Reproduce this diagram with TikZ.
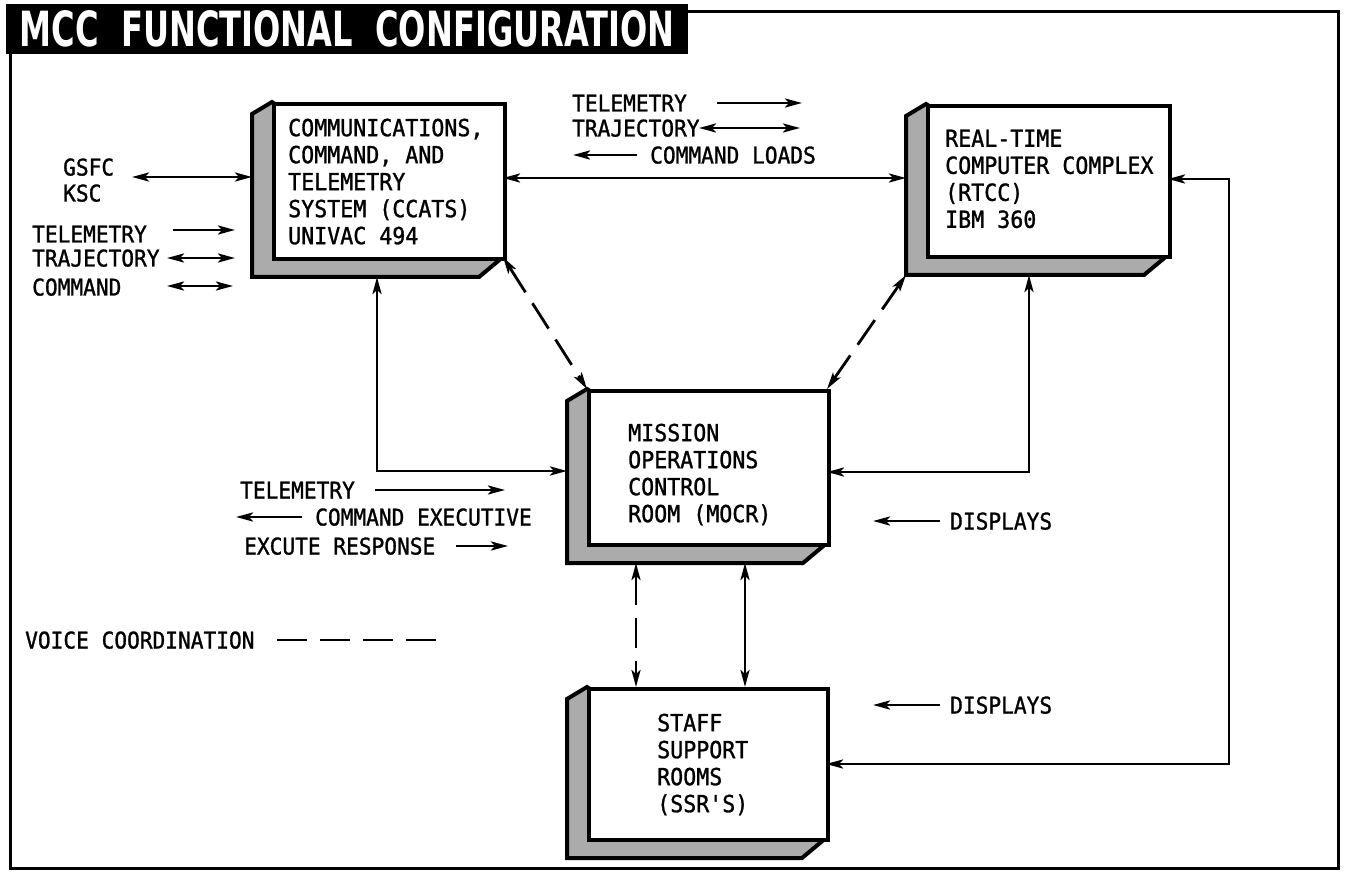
\documentclass[tikz,border=0pt]{standalone}
\usepackage{fontspec}
\usetikzlibrary{arrows.meta}
\newfontfamily\lettering[FakeStretch=0.92,FakeBold=1.2]{DejaVu Sans Mono}
\newfontfamily\titlefont{DejaVu Sans}
\newcommand\mccbox[5]{%
  \draw[sidepanel] (#2,#3) -- ({#2-20},{#3+12}) -- ({#2-20},{#5+20}) -- ({#4-24},{#5+20}) -- (#4,#5) -- cycle;
  \node[frontface, minimum width={#4-#2}, minimum height={#5-#3}] (#1) at (#2,#3) {};
}
\tikzset{
  sidepanel/.style={draw, line width=4pt, fill=black!33, line join=miter},
  frontface/.style={draw, line width=4pt, fill=white, inner sep=0pt, anchor=north west},
  boxtext/.style={font=\lettering\fontsize{23.5}{27}\selectfont, align=left, inner sep=0pt, anchor=north west},
  lbl/.style={font=\lettering\fontsize{23}{27}\selectfont, inner sep=0pt, anchor=base west},
  tip/.tip={Stealth[length=17pt,width=9pt,inset=4pt]},
  oneway/.style={line width=2.8pt, -tip},
  twoway/.style={line width=2.8pt, tip-tip},
  voice/.style={dash pattern=on 30pt off 13pt},
  titlebar/.style={fill=black, text=white, inner sep=0pt, anchor=north west, minimum width=682pt, minimum height=50pt}
}
\begin{document}
\begin{tikzpicture}[x=1pt,y=-1pt]
\useasboundingbox (0,0) rectangle (1348,874);
% frame and title
\draw[line width=3pt] (10,12) rectangle (1338,868);
\node[titlebar] (title) at (6,4) {\resizebox{655pt}{36pt}{\titlefont\bfseries MCC\ \ FUNCTIONAL\ \ CONFIGURATION}};

% boxes
\mccbox{ccats}{272}{102}{503}{257}
\mccbox{rtcc}{926}{104}{1168}{255}
\mccbox{mocr}{587}{389}{827}{543}
\mccbox{ssr}{587}{687}{826}{838}

\node[boxtext] (ccatstext) at (288,118.5) {COMMUNICATIONS,\\COMMAND, AND\\TELEMETRY\\SYSTEM (CCATS)\\UNIVAC 494};
\node[boxtext] (rtcctext) at (945,129.5) {REAL-TIME\\COMPUTER COMPLEX\\(RTCC)\\IBM 360};
\node[boxtext] (mocrtext) at (628,423.5) {MISSION\\OPERATIONS\\CONTROL\\ROOM (MOCR)};
\node[boxtext] (ssrtext) at (657,713.5) {STAFF\\SUPPORT\\ROOMS\\(SSR'S)};

% attachment points
\coordinate (ccatsL) at (252,177);
\coordinate (ccatsR) at (503,178);
\coordinate (ccatsB) at (377,277);
\coordinate (ccatsBR) at (503,257);
\coordinate (rtccL) at (906,178);
\coordinate (rtccR) at (1168,179);
\coordinate (rtccB) at (1029,275);
\coordinate (rtccBL) at (906,275);
\coordinate (mocrTL) at (587,389);
\coordinate (mocrTR) at (827,389);
\coordinate (mocrL) at (567,471);
\coordinate (mocrR) at (827,472);
\coordinate (mocrB1) at (636,563);
\coordinate (mocrB2) at (745,563);
\coordinate (ssrT1) at (636,687);
\coordinate (ssrT2) at (745,687);
\coordinate (ssrR) at (826,764);
\coordinate (bendA) at (377,471);
\coordinate (bendB) at (1029,472);
\coordinate (bendC) at (1229,764);
\coordinate (bendD) at (1229,179);

% main connectors
\draw[twoway] (ccatsR) -- (rtccL);
\draw[twoway] (ccatsB) -- (bendA) -- (mocrL);
\draw[twoway] (rtccB) -- (bendB) -- (mocrR);
\draw[twoway] (ssrR) -- (bendC) -- (bendD) -- (rtccR);
\draw[twoway, voice] (ccatsBR) -- (mocrTL);
\draw[twoway, voice] (rtccBL) -- (mocrTR);
\draw[twoway, voice] (mocrB1) -- (ssrT1);
\draw[twoway] (mocrB2) -- (ssrT2);

% left legend
\node[lbl] (gsfc) at (63,175.5) {GSFC};
\node[lbl] (ksc) at (63,201.5) {KSC};
\coordinate (gsfcend) at (132,177);
\draw[twoway] (gsfcend) -- (ccatsL);
\node[lbl] (tel1) at (32,242.5) {TELEMETRY};
\coordinate (tel1a) at (173,230); \coordinate (tel1b) at (235,230);
\draw[oneway] (tel1a) -- (tel1b);
\node[lbl] (traj1) at (32,266.5) {TRAJECTORY};
\coordinate (traj1a) at (167,258); \coordinate (traj1b) at (235,258);
\draw[twoway] (traj1a) -- (traj1b);
\node[lbl] (cmd1) at (32,295.5) {COMMAND};
\coordinate (cmd1a) at (167,286); \coordinate (cmd1b) at (233,286);
\draw[twoway] (cmd1a) -- (cmd1b);

% top legend
\node[lbl] (tel2) at (572,111.5) {TELEMETRY};
\coordinate (tel2a) at (717,103); \coordinate (tel2b) at (802,103);
\draw[oneway] (tel2a) -- (tel2b);
\node[lbl] (traj2) at (572,136.5) {TRAJECTORY};
\coordinate (traj2a) at (699,128); \coordinate (traj2b) at (800,128);
\draw[twoway] (traj2a) -- (traj2b);
\node[lbl] (cload) at (650,163.5) {COMMAND LOADS};
\coordinate (cloada) at (637,155); \coordinate (cloadb) at (573,155);
\draw[oneway] (cloada) -- (cloadb);

% lower-left legend
\node[lbl] (tel3) at (240,498.5) {TELEMETRY};
\coordinate (tel3a) at (375,490); \coordinate (tel3b) at (505,490);
\draw[oneway] (tel3a) -- (tel3b);
\node[lbl] (cexec) at (315,525.5) {COMMAND EXECUTIVE};
\coordinate (cexeca) at (302,517); \coordinate (cexecb) at (236,517);
\draw[oneway] (cexeca) -- (cexecb);
\node[lbl] (exresp) at (244,554.5) {EXCUTE RESPONSE};
\coordinate (exrespa) at (456,546); \coordinate (exrespb) at (508,546);
\draw[oneway] (exrespa) -- (exrespb);

% displays
\node[lbl] (disp1) at (950,529.5) {DISPLAYS};
\coordinate (disp1a) at (940,521); \coordinate (disp1b) at (873,521);
\draw[oneway] (disp1a) -- (disp1b);
\node[lbl] (disp2) at (950,713.5) {DISPLAYS};
\coordinate (disp2a) at (940,705); \coordinate (disp2b) at (873,705);
\draw[oneway] (disp2a) -- (disp2b);

% voice coordination key
\node[lbl] (voicekey) at (25,648.5) {VOICE COORDINATION};
\coordinate (voicea) at (277,640); \coordinate (voiceb) at (440,640);
\draw[line width=2.8pt, voice] (voicea) -- (voiceb);
\end{tikzpicture}
\end{document}
